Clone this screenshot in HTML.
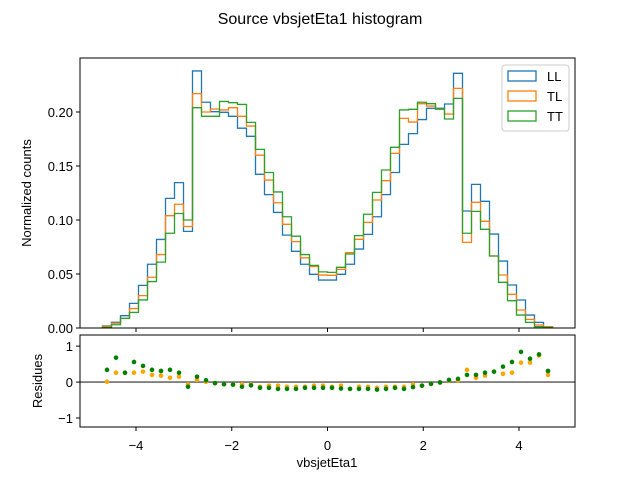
<!DOCTYPE html>
<html><head><meta charset="utf-8"><style>
body{margin:0;background:#fff;}
svg{display:block;font-family:"Liberation Sans","DejaVu Sans",sans-serif;}
</style></head><body>
<svg id="chart" width="640" height="480" xmlns="http://www.w3.org/2000/svg">
<text x="320" y="24" font-size="16" text-anchor="middle">Source vbsjetEta1 histogram</text>
<g id="main"></g>
<g id="res"></g>
<text x="31" y="193" font-size="13" text-anchor="middle" transform="rotate(-90 31 193)">Normalized counts</text>
<text x="42" y="381" font-size="13" text-anchor="middle" transform="rotate(-90 42 381)">Residues</text>
<text x="327" y="467" font-size="13" text-anchor="middle">vbsjetEta1</text>
</svg>
<script>
const binLo=-4.7, binHi=4.7, nBins=50;
const LL=[0.002,0.0053,0.0114,0.0228,0.0395,0.059,0.082,0.120,0.1346,0.0895,0.238,0.209,0.2003,0.1997,0.196,0.185,0.1775,0.1423,0.1235,0.107,0.086,0.071,0.059,0.0497,0.0444,
0.0444,0.0497,0.059,0.0731,0.0867,0.103,0.1235,0.144,0.170,0.180,0.193,0.2034,0.2034,0.2074,0.2358,0.1083,0.1330,0.1173,0.0870,0.0620,0.0398,0.0259,0.0120,0.0052,0.0012];
const TL=[0.0016,0.0044,0.0089,0.018,0.030,0.047,0.068,0.104,0.1146,0.094,0.217,0.200,0.2028,0.2019,0.204,0.196,0.187,0.160,0.137,0.116,0.096,0.080,0.065,0.057,0.049,
0.0488,0.0543,0.0698,0.0821,0.0978,0.1185,0.1364,0.1617,0.1941,0.1907,0.2077,0.2055,0.2027,0.1981,0.2219,0.0793,0.1164,0.0988,0.0667,0.0491,0.0312,0.0167,0.0080,0.0028,0.0012];
const TT=[0.0006,0.003,0.0089,0.0145,0.026,0.043,0.061,0.0877,0.106,0.100,0.204,0.196,0.196,0.2098,0.2086,0.207,0.1904,0.1654,0.144,0.126,0.103,0.085,0.068,0.058,0.052,
0.0515,0.0562,0.0685,0.0855,0.1053,0.1256,0.1463,0.1673,0.2019,0.2025,0.2090,0.2077,0.2027,0.1935,0.2126,0.0877,0.1080,0.0914,0.0667,0.0423,0.0253,0.0120,0.0052,0.0012,0.0006];
const resTT=[0.34,0.68,0.26,0.56,0.45,0.34,0.31,0.34,0.26,-0.13,0.15,0.05,-0.03,-0.06,-0.07,-0.13,-0.09,-0.16,-0.16,-0.19,-0.19,-0.19,-0.16,-0.16,-0.16,-0.16,-0.18,-0.19,-0.19,-0.19,-0.21,-0.19,-0.16,-0.19,-0.14,-0.10,-0.05,-0.01,0.06,0.09,0.20,0.20,0.26,0.29,0.43,0.56,0.84,0.65,0.77,0.31];
const resTL=[0.01,0.26,0.26,0.26,0.29,0.20,0.18,0.12,0.15,-0.07,0.06,0.01,-0.03,-0.06,-0.07,-0.07,-0.07,-0.13,-0.10,-0.10,-0.13,-0.13,-0.13,-0.10,-0.10,-0.13,-0.10,-0.19,-0.13,-0.13,-0.16,-0.13,-0.13,-0.13,-0.07,-0.10,-0.05,-0.01,0.04,0.04,0.34,0.12,0.18,0.29,0.23,0.26,0.54,0.54,0.74,0.20];
const xTicks=[-4,-2,0,2,4];
const yTicks=[0,0.05,0.10,0.15,0.20];
const yTickLabels=["0.00","0.05","0.10","0.15","0.20"];
const rTicks=[-1,0,1];
const NS="http://www.w3.org/2000/svg";
const L=80,R=575,T1=58,B1=328,T2=335,B2=427;
const xmin=-5.17,xmax=5.17,ymax=0.25,rmin=-1.25,rmax=1.31;
const X=v=>L+(v-xmin)/(xmax-xmin)*(R-L);
const Y=v=>B1-v/ymax*(B1-T1);
const RY=v=>B2-(v-rmin)/(rmax-rmin)*(B2-T2);
function mk(tag,attrs,parent){const e=document.createElementNS(NS,tag);for(const k in attrs)e.setAttribute(k,attrs[k]);parent.appendChild(e);return e;}
const main=document.getElementById('main'),res=document.getElementById('res');
const w=(binHi-binLo)/nBins;
const series=[["LL",LL,"#1f77b4"],["TL",TL,"#ff7f0e"],["TT",TT,"#2ca02c"]];
series.forEach(([nm,arr,c])=>{
  let d="M"+X(binLo)+","+Y(0);
  arr.forEach((v,i)=>{d+=" L"+X(binLo+i*w)+","+Y(v)+" L"+X(binLo+(i+1)*w)+","+Y(v);});
  d+=" L"+X(binHi)+","+Y(0);
  const p=mk('path',{d:d,fill:"none",stroke:c,"stroke-width":1.3},main);
  
  
});
const f1=mk('rect',{x:L,y:T1,width:R-L,height:B1-T1,fill:"none",stroke:"#000","stroke-width":1},main);


yTicks.forEach((v,i)=>{
  mk('line',{x1:L-4,x2:L,y1:Y(v),y2:Y(v),stroke:"#000"},main);
  const t=mk('text',{x:L-7,y:Y(v)+5,"font-size":13,"text-anchor":"end"},main);
  t.textContent=yTickLabels[i];
  
  
});
xTicks.forEach(v=>{mk('line',{x1:X(v),x2:X(v),y1:B1,y2:B1+4,stroke:"#000"},main);});
const lg=mk('g',{},main);


mk('rect',{x:502,y:65,width:67,height:66,rx:3,fill:"#fff","fill-opacity":0.8,stroke:"#ccc"},lg);
series.forEach(([nm,arr,c],i)=>{
  const y0=71+i*20;
  mk('rect',{x:508,y:y0,width:28,height:10,fill:"none",stroke:c,"stroke-width":1.3},lg);
  const t=mk('text',{x:547,y:y0+10,"font-size":13},lg);
  t.textContent=nm;
  
  
});
const z=mk('line',{x1:L,x2:R,y1:RY(0),y2:RY(0),stroke:"#808080","stroke-width":1.8},res);


[[resTL,"#ffa500","tl"],[resTT,"#008000","tt"]].forEach(([arr,c,nm])=>{
  arr.forEach((v,i)=>{
    const ci=mk('circle',{cx:X(binLo+(i+0.5)*w),cy:RY(v),r:2.3,fill:c},res);
    
    
  });
});
const f2=mk('rect',{x:L,y:T2,width:R-L,height:B2-T2,fill:"none",stroke:"#000","stroke-width":1},res);


rTicks.forEach(v=>{
  mk('line',{x1:L-4,x2:L,y1:RY(v),y2:RY(v),stroke:"#000"},res);
  const t=mk('text',{x:L-7,y:RY(v)+5,"font-size":13,"text-anchor":"end"},res);
  t.textContent=v<0?"\u22121":String(v);
  
  
});
xTicks.forEach(v=>{
  mk('line',{x1:X(v),x2:X(v),y1:B2,y2:B2+4,stroke:"#000"},res);
  const t=mk('text',{x:X(v),y:B2+23,"font-size":13,"text-anchor":"middle"},res);
  t.textContent=v<0?"\u2212"+Math.abs(v):String(v);
  
  
});
</script>
</body></html>
